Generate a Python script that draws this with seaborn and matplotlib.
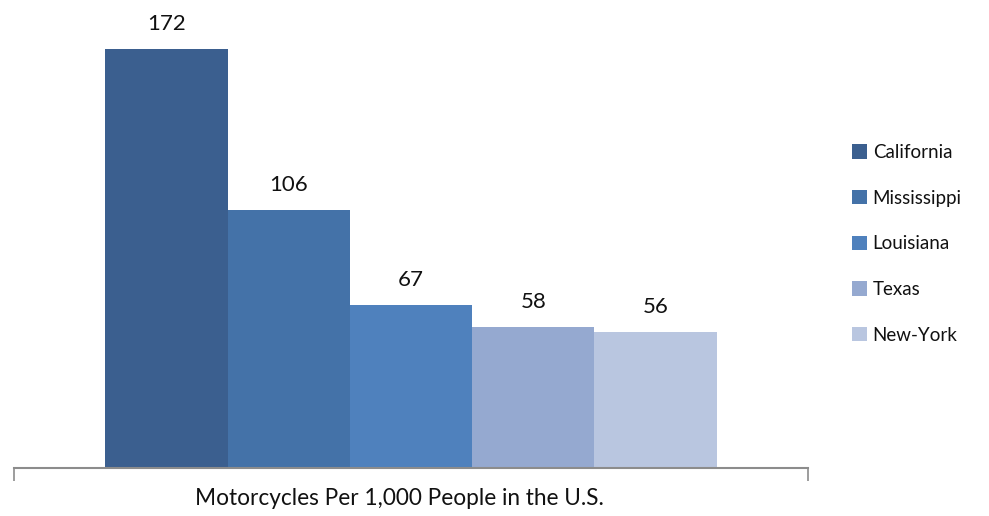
import matplotlib
matplotlib.use("Agg")
import matplotlib.pyplot as plt
import seaborn as sns
import pandas as pd
from matplotlib.patches import Patch

states = ["California", "Mississippi", "Louisiana", "Texas", "New-York"]
values = [172, 106, 67, 58, 56]
colors = ["#3b5f8f", "#4472a8", "#4f81bd", "#95a9d0", "#b9c6e0"]
category = "Motorcycles Per 1,000 People in the U.S."

df = pd.DataFrame({"group": [category] * len(states), "state": states, "value": values})

sns.set_theme(style="white")
plt.rcParams["font.family"] = ["Lato", "DejaVu Sans"]

fig = plt.figure(figsize=(9.89, 5.16), dpi=100)
ax = fig.add_axes([14 / 989, 48 / 516, 794 / 989, 468 / 516])

sns.barplot(data=df, x="group", y="value", hue="state", hue_order=states,
            palette=colors, width=0.77, saturation=1, linewidth=0,
            ax=ax, legend=False)

for patch, v in zip(ax.patches, values):
    ax.text(patch.get_x() + patch.get_width() / 2, v + 6, f"{v}",
            ha="center", va="bottom", fontsize=16, color="#111111")

ax.set_xlim(-0.5, 0.5)
ax.set_ylim(0, 192)
ax.set_yticks([])
ax.set_xticks([-0.5, 0.5])
ax.set_xticklabels(["", ""])
ax.tick_params(axis="x", length=9, width=1.2, color="#8c8c8c", direction="out", bottom=True)
ax.set_xlabel(category, fontsize=16.3, color="#111111")
ax.xaxis.set_label_coords(0.485, -0.043, transform=ax.transAxes)
ax.xaxis.label.set_va("top")
ax.set_ylabel("")
for side in ["top", "right", "left"]:
    ax.spines[side].set_visible(False)
ax.spines["bottom"].set_color("#8c8c8c")
ax.spines["bottom"].set_linewidth(1.5)

handles = [Patch(facecolor=c, edgecolor="none") for c in colors]
fig.legend(handles, states, loc="upper left", bbox_to_anchor=(852 / 989, 1 - 144 / 516),
           frameon=False, fontsize=13.5, handlelength=0.8, handleheight=0.8,
           handletextpad=0.3, labelspacing=1.53, borderpad=0, borderaxespad=0,
           labelcolor="#111111")

fig.savefig("out.png", dpi=100)
